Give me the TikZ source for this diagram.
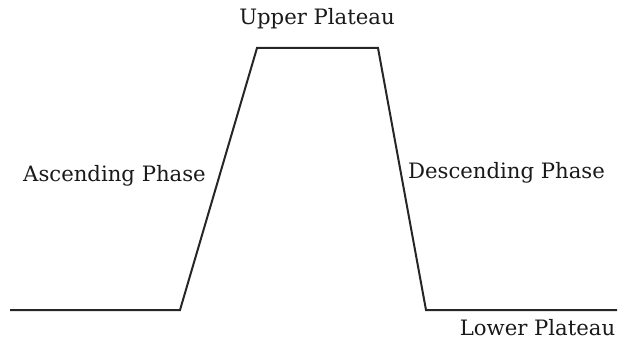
\documentclass[tikz,border=0pt]{standalone}
\usepackage{fontspec}
\setmainfont{DejaVu Serif}
\begin{document}
\begin{tikzpicture}[x=1pt,y=-1pt,
  curve/.style={draw=black!85,line width=2pt,line join=miter},
  lbl/.style={anchor=base,inner sep=0pt,font=\fontsize{21.2}{23}\selectfont,text=black!90}]
\useasboundingbox (0,0) rectangle (618,350);
\coordinate (s) at (10,310);
\coordinate (a) at (180,310);
\coordinate (b) at (257,48);
\coordinate (c) at (378,48);
\coordinate (d) at (426,310);
\coordinate (e) at (617,310);
\draw[curve] (s) -- (a) -- (b) -- (c) -- (d) -- (e);
\node[lbl] (up) at (317,25) {Upper Plateau};
\node[lbl] (asc) at (114.5,181) {Ascending Phase};
\node[lbl] (desc) at (506.5,178) {Descending Phase};
\node[lbl] (low) at (537.5,335) {Lower Plateau};
\end{tikzpicture}
\end{document}
